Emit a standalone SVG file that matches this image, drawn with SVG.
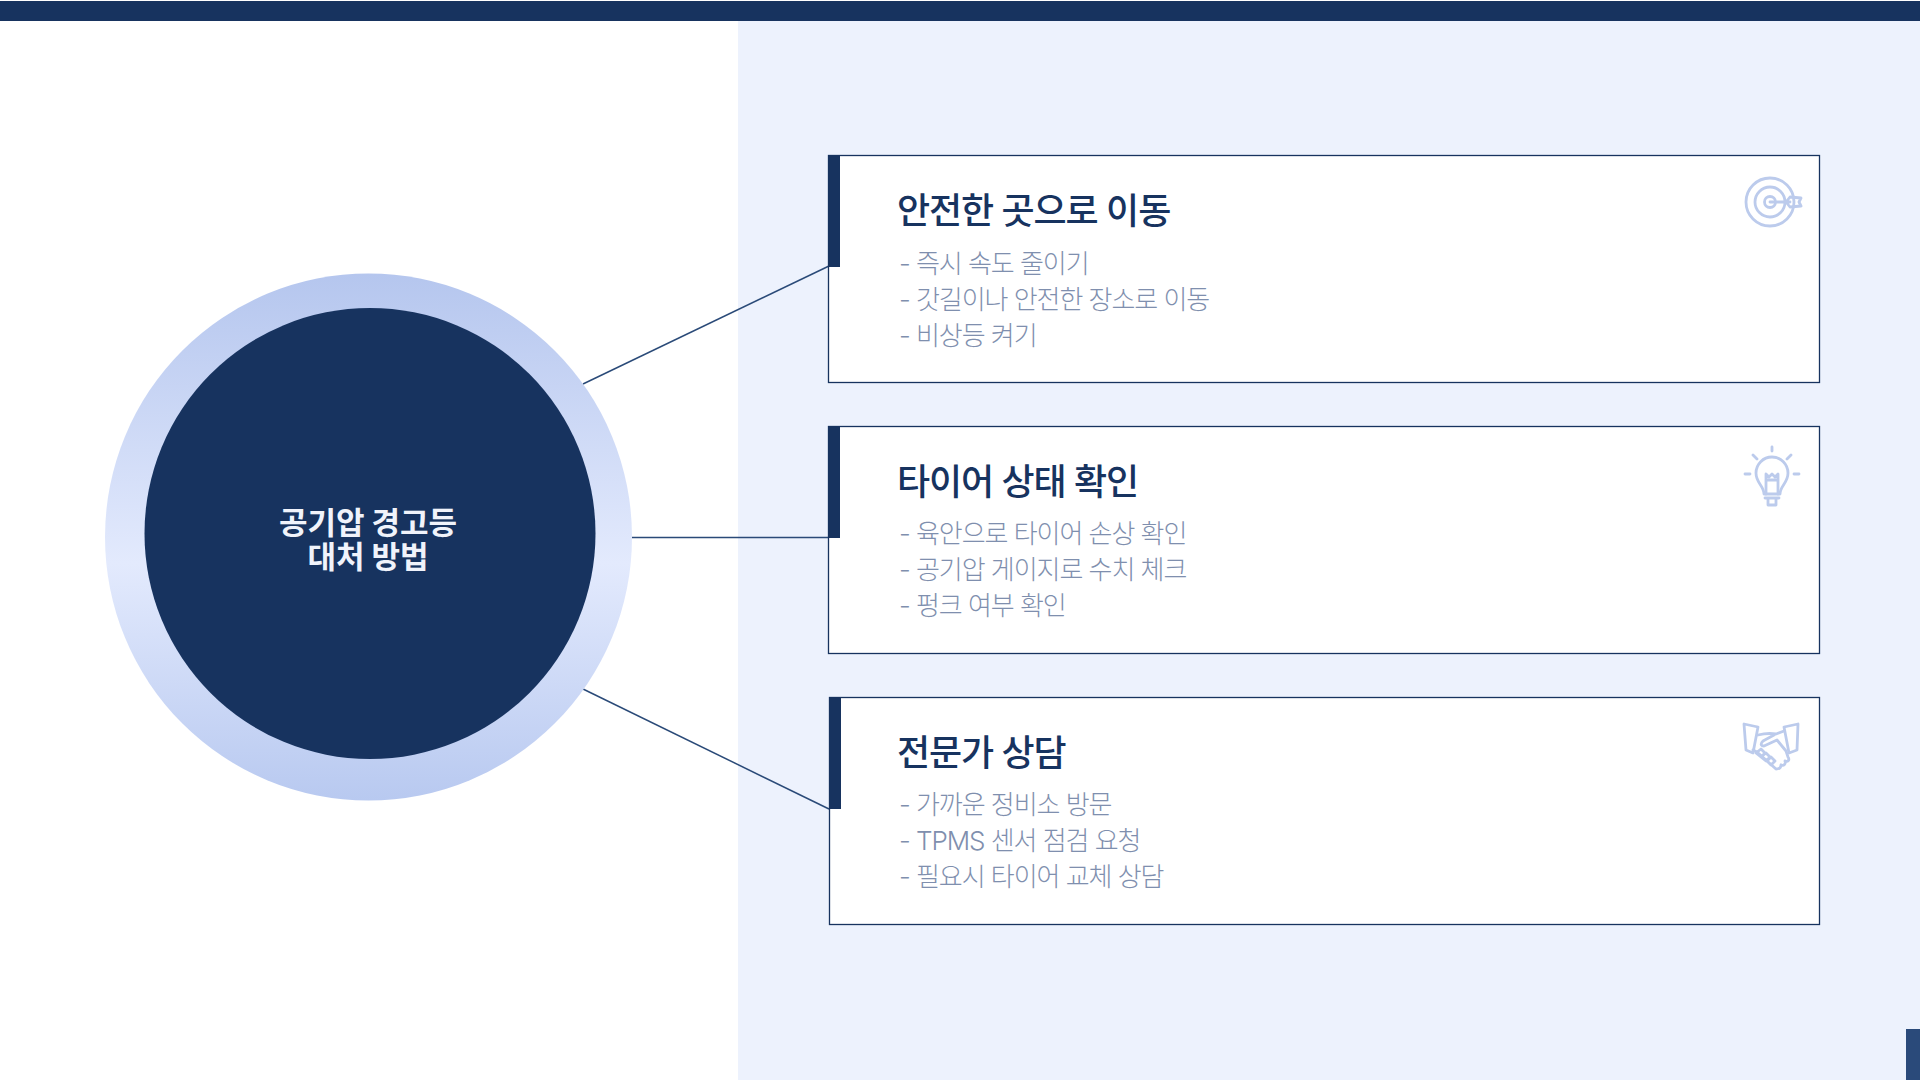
<svg xmlns="http://www.w3.org/2000/svg" width="1920" height="1080" viewBox="0 0 1920 1080">
<style>
.card{fill:#fff;stroke:#17335f;stroke-width:1.3}
.acc{fill:#17335f}
.t{font-family:Inter,"Noto Sans CJK KR","Noto Sans",sans-serif;font-size:36px;font-weight:500;fill:#17335f;letter-spacing:-1.1px}
.b{font-family:Inter,"Noto Sans CJK KR","Noto Sans",sans-serif;font-size:26px;font-weight:300;fill:#7f8fae;letter-spacing:-1.05px}
.c{font-family:Inter,"Noto Sans CJK KR","Noto Sans",sans-serif;font-size:31px;font-weight:700;fill:#f0f3fb;text-anchor:middle;letter-spacing:-0.1px}
.ic{fill:none;stroke:#bccbec;stroke-width:2.8;stroke-linecap:round;stroke-linejoin:round}
.ln{fill:none;stroke:#2a4a78;stroke-width:1.5}
</style>
<defs><linearGradient id="g" x1="0" y1="0" x2="0" y2="1"><stop offset="0" stop-color="#b5c6ee"/><stop offset="0.55" stop-color="#e3eafd"/><stop offset="1" stop-color="#b8c9f0"/></linearGradient></defs>
<rect width="1920" height="1080" fill="#fff"/>
<rect x="738" y="21" width="1182" height="1059" fill="#edf2fd"/>
<rect x="0" y="1" width="1920" height="20" fill="#17335f"/>
<rect x="1906" y="1029" width="14" height="51" fill="#2a4a7a"/>
<g id="connectors">
<line class="ln" x1="583" y1="384" x2="829" y2="266"/>
<line class="ln" x1="632" y1="537.5" x2="829" y2="537.5"/>
<line class="ln" x1="583" y1="689" x2="829" y2="809"/>
</g>
<g id="center">
<circle cx="368.5" cy="537" r="263.5" fill="url(#g)"/>
<circle cx="370" cy="533.5" r="225.5" fill="#17335f"/>
<text class="c" x="368" y="534">공기압 경고등</text>
<text class="c" x="368" y="568">대처 방법</text>
</g>
<g id="card1">
<rect class="card" x="828.5" y="155.5" width="991" height="227"/>
<rect class="acc" x="828" y="155" width="12" height="112"/>
<text class="t" x="897" y="224">안전한 곳으로 이동</text>
<text class="b" x="899" y="273">- 즉시 속도 줄이기</text>
<text class="b" x="899" y="309">- 갓길이나 안전한 장소로 이동</text>
<text class="b" x="899" y="345">- 비상등 켜기</text>
<g class="ic"><circle cx="1770" cy="202" r="24"/><circle cx="1770" cy="202" r="15"/><circle cx="1770" cy="202" r="5.5"/><path d="M1770 202H1790M1790 197L1801 198L1799 202L1801 206L1790 207L1786 202Z"/></g>
</g>
<g id="card2">
<rect class="card" x="828.5" y="426.5" width="991" height="227"/>
<rect class="acc" x="828" y="426" width="12" height="112"/>
<text class="t" x="897" y="495">타이어 상태 확인</text>
<text class="b" x="899" y="543">- 육안으로 타이어 손상 확인</text>
<text class="b" x="899" y="579">- 공기압 게이지로 수치 체크</text>
<text class="b" x="899" y="615">- 펑크 여부 확인</text>
<g class="ic"><path d="M1772 447V451M1753 455L1757 459M1791 455L1787 459M1745 474H1750M1794 474H1799"/><path d="M1764 494C1764 486 1756 483 1756 473A16 16 0 0 1 1788 473C1788 483 1780 486 1780 494Z"/><path d="M1766 494V480H1778V494M1766 480V474L1769 477L1772 474L1775 477L1778 474V480M1765 498H1779M1768 498V505H1776V498"/></g>
</g>
<g id="card3">
<rect class="card" x="829.5" y="697.5" width="990" height="227"/>
<rect class="acc" x="829" y="697" width="12" height="112"/>
<text class="t" x="897" y="766">전문가 상담</text>
<text class="b" x="899" y="814">- 가까운 정비소 방문</text>
<text class="b" x="899" y="850">- TPMS 센서 점검 요청</text>
<text class="b" x="899" y="886">- 필요시 타이어 교체 상담</text>
<g class="ic"><path d="M1744 724L1758 727L1753 753L1746 750ZM1798 724L1784 727L1789 753L1797 750Z"/><path d="M1758 735C1766 733 1770 733 1776 734L1784 731M1786 751L1777 740L1764 746C1761 746 1760 744 1763 741L1774 735M1753 750L1757 752L1776 769C1779 769 1781 768 1781 765M1781 765C1784 766 1786 764 1785 761M1785 761C1788 762 1790 760 1788 757L1786 751M1756 753L1761 749L1765 753L1761 757ZM1761 757L1766 753L1770 757L1766 761ZM1767 761L1771 757L1775 761L1771 765Z"/></g>
</g>
</svg>
